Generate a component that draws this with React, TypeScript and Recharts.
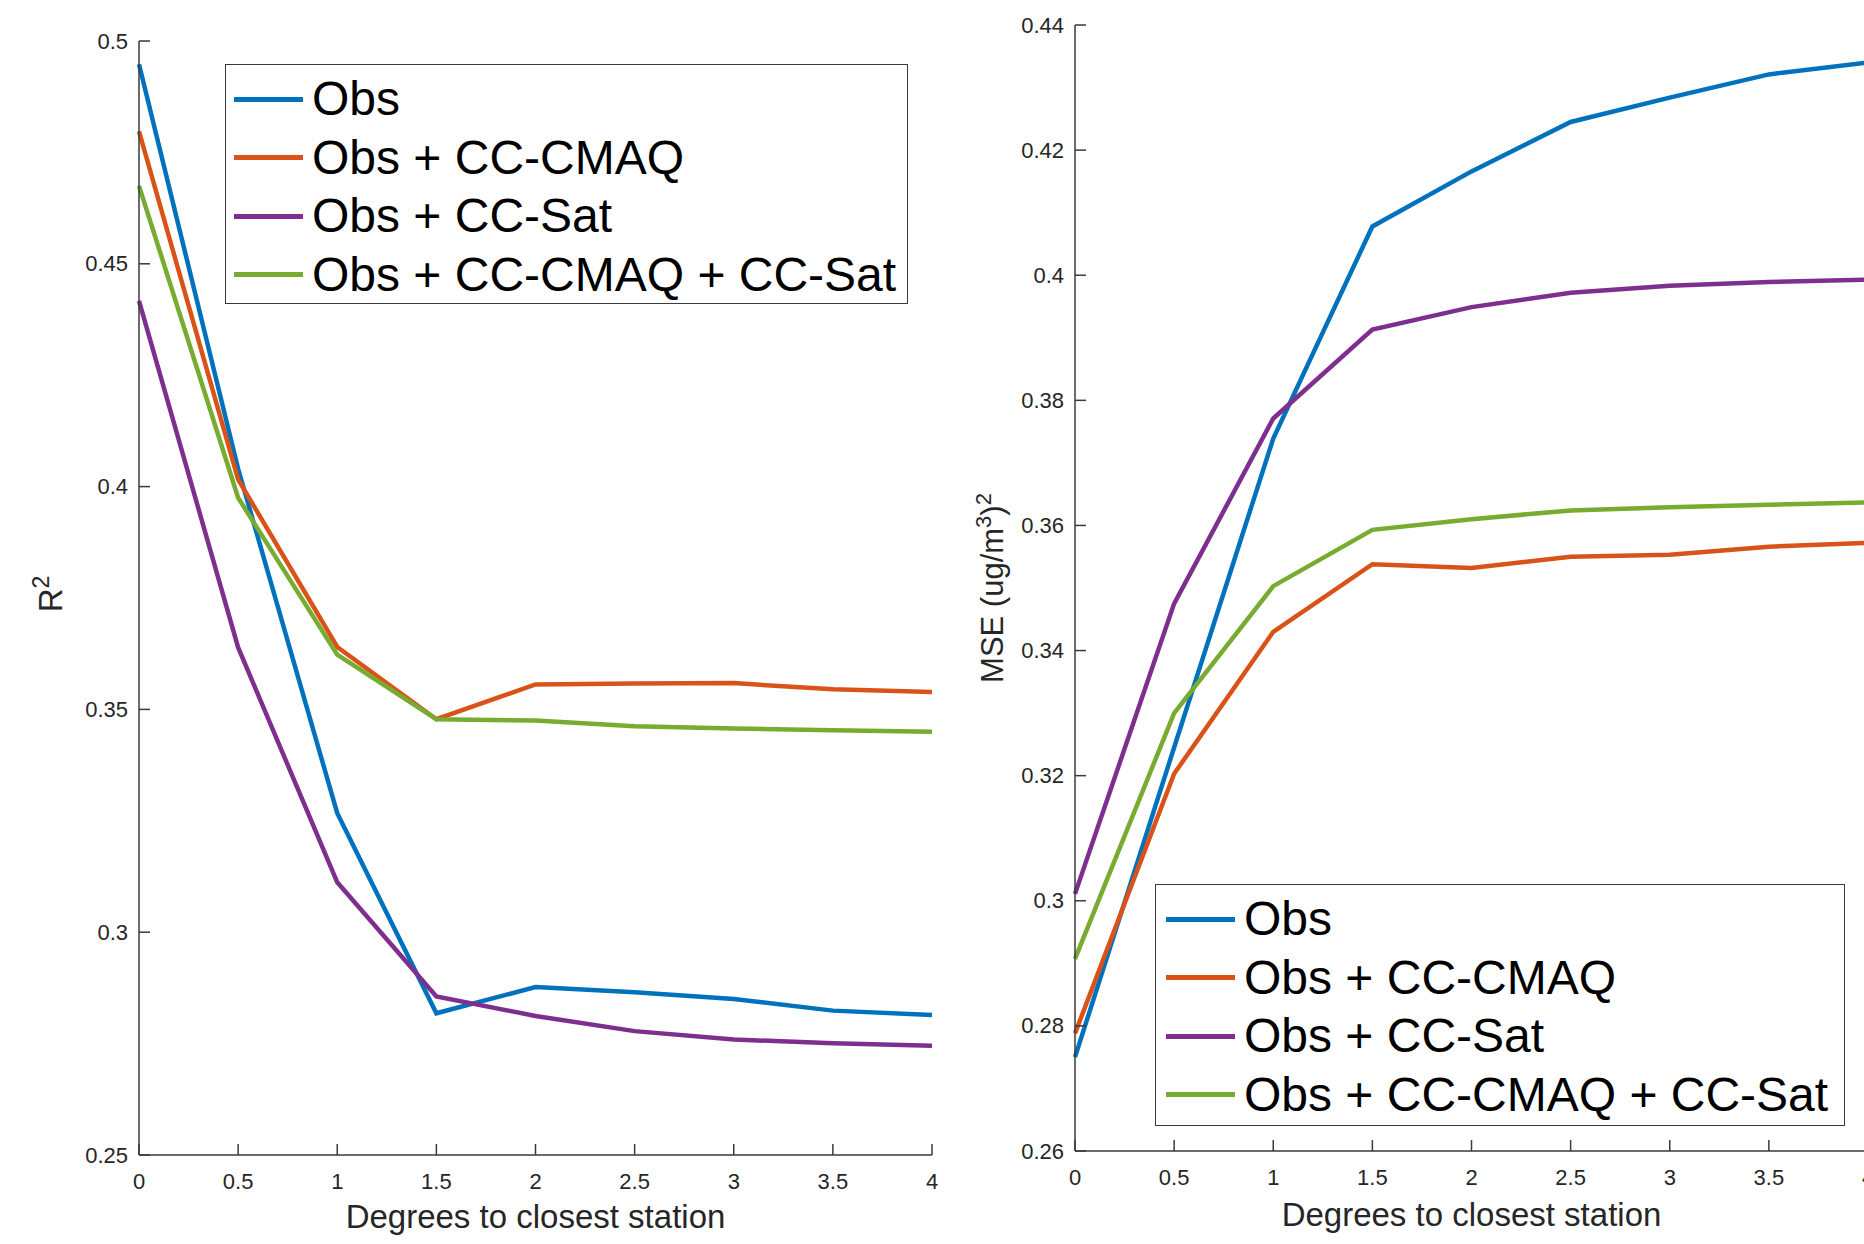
import React from 'react';
import { LineChart, Line, XAxis, YAxis, Legend } from 'recharts';

// distance to the closest station (degrees)
const degrees = [0, 0.5, 1, 1.5, 2, 2.5, 3, 3.5, 4];
const xTicks = [0, 0.5, 1, 1.5, 2, 2.5, 3, 3.5, 4];

// left panel: R^2
const r2Obs = [0.4948, 0.404, 0.3267, 0.2818, 0.2877, 0.2865, 0.285, 0.2824, 0.2814];
const r2Cmaq = [0.4797, 0.4016, 0.364, 0.3478, 0.3556, 0.3558, 0.3559, 0.3545, 0.3539];
const r2Sat = [0.4417, 0.3639, 0.3112, 0.2856, 0.2812, 0.2778, 0.2759, 0.2751, 0.2745];
const r2Both = [0.4675, 0.3975, 0.3623, 0.3478, 0.3475, 0.3462, 0.3457, 0.3453, 0.345];
const r2Ticks = [0.25, 0.3, 0.35, 0.4, 0.45, 0.5];

// right panel: MSE
const mseObs = [0.275, 0.3245, 0.3739, 0.4078, 0.4166, 0.4245, 0.4284, 0.4321, 0.434];
const mseCmaq = [0.2788, 0.3203, 0.343, 0.3538, 0.3532, 0.355, 0.3553, 0.3566, 0.3572];
const mseSat = [0.3011, 0.3475, 0.3771, 0.3913, 0.3949, 0.3972, 0.3983, 0.3989, 0.3993];
const mseBoth = [0.2907, 0.33, 0.3503, 0.3593, 0.361, 0.3624, 0.3629, 0.3633, 0.3637];
const mseTicks = [0.26, 0.28, 0.3, 0.32, 0.34, 0.36, 0.38, 0.4, 0.42, 0.44];

const seriesNames = ['Obs', 'Obs + CC-CMAQ', 'Obs + CC-Sat', 'Obs + CC-CMAQ + CC-Sat'];
const colors = ['#0072BD', '#D95319', '#7E2F8E', '#77AC30'];

const FONT = '"Liberation Sans", Arial, Helvetica, sans-serif';
const AXIS = '#3a3a3a';

const r2Data = degrees.map((d, i) => ({ x: d, s0: r2Obs[i], s1: r2Cmaq[i], s2: r2Sat[i], s3: r2Both[i] }));
const mseData = degrees.map((d, i) => ({ x: d, s0: mseObs[i], s1: mseCmaq[i], s2: mseSat[i], s3: mseBoth[i] }));

// matlab style ticks pointing into the plot
const XTick = (props: any) => {
  const { x, y, payload } = props;
  return (
    <g>
      <line x1={x} x2={x} y1={y} y2={y - 11} stroke={AXIS} strokeWidth={1.5} />
      <text x={x} y={y + 26} textAnchor="middle" dominantBaseline="central" fontFamily={FONT} fontSize={22} fill="#262626">
        {String(payload.value)}
      </text>
    </g>
  );
};

const YTick = (props: any) => {
  const { x, y, payload } = props;
  return (
    <g>
      <line x1={x} x2={x + 11} y1={y} y2={y} stroke={AXIS} strokeWidth={1.5} />
      <text x={x - 11} y={y} textAnchor="end" dominantBaseline="central" fontFamily={FONT} fontSize={22} fill="#262626">
        {String(payload.value)}
      </text>
    </g>
  );
};

const LegendBox = (props: any) => {
  const { payload, lineLeft } = props;
  // keep the plotting order, not alphabetical
  const items = [...(payload || [])].sort(
    (a: any, b: any) => seriesNames.indexOf(a.value) - seriesNames.indexOf(b.value)
  );
  return (
    <div
      style={{
        boxSizing: 'border-box',
        width: '100%',
        height: '100%',
        border: `1.5px solid ${AXIS}`,
        background: '#fff',
        paddingTop: 5,
        fontFamily: FONT,
        fontSize: 48,
        color: '#000',
      }}
    >
      {items.map((p: any) => (
        <div key={p.value} style={{ display: 'flex', alignItems: 'center', height: 58.5 }}>
          <div style={{ width: 69, height: 5, background: p.color, marginLeft: lineLeft, marginRight: 9 }} />
          <span style={{ lineHeight: 1, whiteSpace: 'nowrap' }}>{p.value}</span>
        </div>
      ))}
    </div>
  );
};

const renderLines = () =>
  seriesNames.map((name, i) => (
    <Line
      key={name}
      type="linear"
      dataKey={`s${i}`}
      name={name}
      stroke={colors[i]}
      strokeWidth={4.5}
      dot={false}
      activeDot={false}
      isAnimationActive={false}
    />
  ));

export default function App() {
  return (
    <div style={{ position: 'fixed', left: 0, top: 0, width: 1864, height: 1244, overflow: 'hidden', background: '#fff' }}>
      <div style={{ position: 'absolute', left: 0, top: 0 }}>
        <LineChart width={960} height={1244} data={r2Data} margin={{ top: 41, right: 28, bottom: 0, left: 0 }}>
          <XAxis
            dataKey="x"
            type="number"
            domain={[0, 4]}
            ticks={xTicks}
            interval={0}
            height={89}
            tickSize={0}
            tickMargin={0}
            tickLine={false}
            tick={<XTick />}
            axisLine={{ stroke: AXIS, strokeWidth: 1.5 }}
            label={(p: any) => (
              <text x={535.5} y={1216} textAnchor="middle" dominantBaseline="central" fontFamily={FONT} fontSize={33} fill="#262626">
                Degrees to closest station
              </text>
            )}
          />
          <YAxis
            type="number"
            domain={[0.25, 0.5]}
            ticks={r2Ticks}
            interval={0}
            width={139}
            tickSize={0}
            tickMargin={0}
            tickLine={false}
            tick={<YTick />}
            axisLine={{ stroke: AXIS, strokeWidth: 1.5 }}
            label={(p: any) => (
              <text x={0} y={0} transform="translate(62,594) rotate(-90)" textAnchor="middle" fontFamily={FONT} fontSize={33} fill="#262626">
                R<tspan dy={-13} fontSize={23}>2</tspan>
              </text>
            )}
          />
          <Legend
            layout="vertical"
            align="center"
            verticalAlign="middle"
            itemSorter={null as any}
            wrapperStyle={{ left: 225, top: 64, width: 683, height: 240 }}
            content={<LegendBox lineLeft={8} />}
          />
          {renderLines()}
        </LineChart>
      </div>
      <div style={{ position: 'absolute', left: 940, top: 0 }}>
        <LineChart width={940} height={1244} data={mseData} margin={{ top: 25, right: 12, bottom: 0, left: 0 }}>
          <XAxis
            dataKey="x"
            type="number"
            domain={[0, 4]}
            ticks={xTicks}
            interval={0}
            height={93}
            tickSize={0}
            tickMargin={0}
            tickLine={false}
            tick={<XTick />}
            axisLine={{ stroke: AXIS, strokeWidth: 1.5 }}
            label={(p: any) => (
              <text x={531.5} y={1214} textAnchor="middle" dominantBaseline="central" fontFamily={FONT} fontSize={33} fill="#262626">
                Degrees to closest station
              </text>
            )}
          />
          <YAxis
            type="number"
            domain={[0.26, 0.44]}
            ticks={mseTicks}
            interval={0}
            width={135}
            tickSize={0}
            tickMargin={0}
            tickLine={false}
            tick={<YTick />}
            axisLine={{ stroke: AXIS, strokeWidth: 1.5 }}
            label={(p: any) => (
              <text x={0} y={0} transform="translate(63,588) rotate(-90)" textAnchor="middle" fontFamily={FONT} fontSize={31} fill="#262626">
                MSE (ug/m<tspan dy={-12} fontSize={22}>3</tspan>
                <tspan dy={12}>)</tspan>
                <tspan dy={-12} fontSize={22}>2</tspan>
              </text>
            )}
          />
          <Legend
            layout="vertical"
            align="center"
            verticalAlign="middle"
            itemSorter={null as any}
            wrapperStyle={{ left: 215, top: 884, width: 690, height: 242 }}
            content={<LegendBox lineLeft={10} />}
          />
          {renderLines()}
        </LineChart>
      </div>
    </div>
  );
}
